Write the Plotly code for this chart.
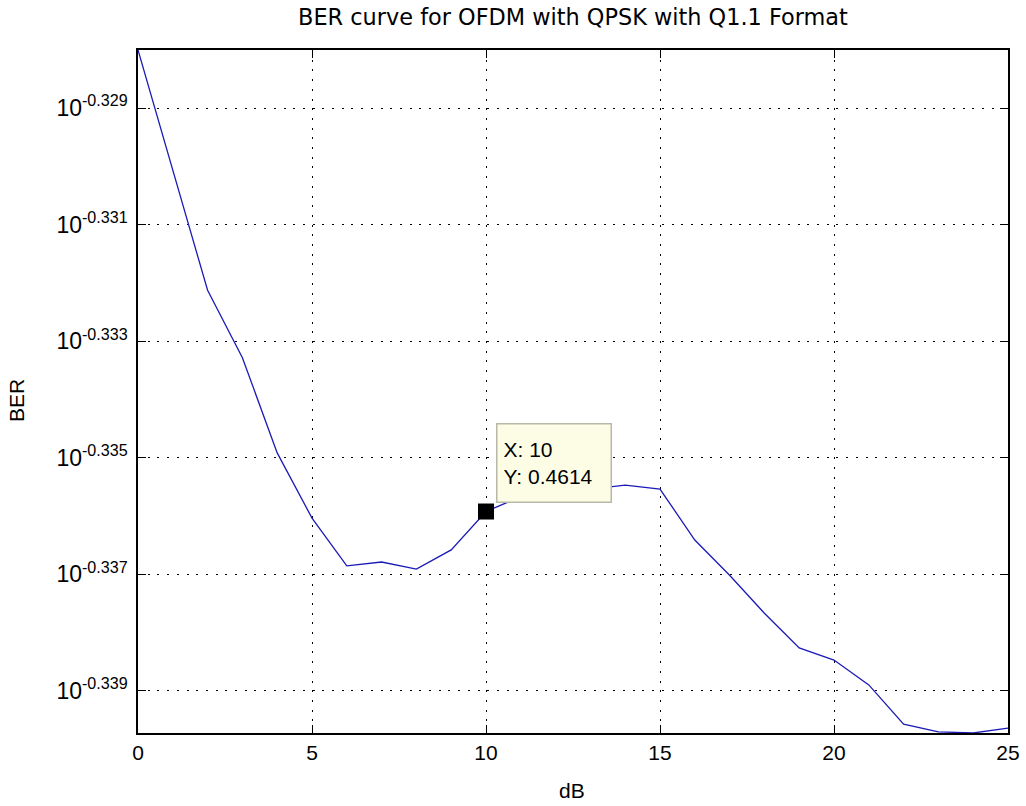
import numpy as np
import plotly.graph_objects as go

# SNR in dB and measured bit error rate
snr_db = list(range(0, 26))
ber = [0.46989, 0.46765, 0.46545, 0.46421, 0.46247, 0.46128, 0.46041, 0.46048,
       0.46035, 0.46070, 0.4614, 0.46167, 0.46179, 0.46181, 0.46188, 0.46181,
       0.46088, 0.46024, 0.45955, 0.45892, 0.45870, 0.45825, 0.45754, 0.45740,
       0.45738, 0.45747]

# log-scale tick exponents
y_exponents = [-0.329, -0.331, -0.333, -0.335, -0.337, -0.339]
x_ticks = [0, 5, 10, 15, 20, 25]

# data cursor
cursor_x = 10
cursor_y = 0.4614

font_family = "Liberation Sans, Arial, sans-serif"
W, H = 1026, 806
L, R, T, B = 138, 18, 50, 73
plot_w = W - L - R
plot_h = H - T - B

fig = go.Figure()
fig.add_trace(go.Scatter(
    x=snr_db, y=ber, mode="lines",
    line=dict(color="#1a1ab8", width=1.3),
    showlegend=False, hoverinfo="skip",
))
fig.add_trace(go.Scatter(
    x=[cursor_x], y=[cursor_y], mode="markers",
    marker=dict(symbol="square", size=16, color="black"),
    showlegend=False, hoverinfo="skip",
))

fig.add_annotation(
    x=cursor_x, y=np.log10(cursor_y), xref="x", yref="y",
    text="X: 10<br>Y: 0.4614", showarrow=False,
    xanchor="left", yanchor="bottom", xshift=10, yshift=9,
    align="left", valign="middle",
    width=101, height=65, borderpad=6,
    bgcolor="#fdfde6", bordercolor="#b8b8a8", borderwidth=1.5,
    font=dict(family=font_family, size=21, color="black"),
)

# axis titles placed as annotations
fig.add_annotation(
    x=-(L - 16) / plot_w, y=(H - B - 400) / plot_h, xref="paper", yref="paper",
    text="BER", textangle=-90, showarrow=False,
    xanchor="center", yanchor="middle",
    font=dict(family=font_family, size=21, color="black"),
)
fig.add_annotation(
    x=(572 - L) / plot_w, y=-(790 - (H - B)) / plot_h, xref="paper", yref="paper",
    text="dB", showarrow=False,
    xanchor="center", yanchor="middle",
    font=dict(family=font_family, size=21, color="black"),
)

grid_dash = "2px,7.7px"
fig.update_xaxes(
    range=[0, 25], tickvals=x_ticks, ticktext=[str(v) for v in x_ticks],
    showline=True, linecolor="black", linewidth=1.5, mirror="ticks",
    ticks="inside", ticklen=8, tickcolor="black", tickwidth=1.2,
    showgrid=True, gridcolor="black", gridwidth=1.3, griddash=grid_dash,
    zeroline=False, automargin=False,
    tickfont=dict(family=font_family, size=21, color="black"),
)
fig.update_yaxes(
    type="log",
    range=[np.log10(min(ber)), np.log10(max(ber))],
    tickvals=[10 ** e for e in y_exponents],
    ticktext=[f"10<sup>{e:.3f}</sup>" for e in y_exponents],
    showline=True, linecolor="black", linewidth=1.5, mirror="ticks",
    ticks="inside", ticklen=8, tickcolor="black", tickwidth=1.2,
    showgrid=True, gridcolor="black", gridwidth=1.3, griddash=grid_dash,
    zeroline=False, automargin=False, ticklabelstandoff=4,
    tickfont=dict(family=font_family, size=23, color="black"),
)

fig.update_layout(
    width=W, height=H,
    margin=dict(l=L, r=R, t=T, b=B, autoexpand=False),
    paper_bgcolor="white", plot_bgcolor="white",
    title=dict(
        text="BER curve for OFDM with QPSK with Q1.1 Format",
        x=573 / W, xanchor="center", y=1 - 17 / H, yanchor="middle",
        font=dict(family="DejaVu Sans, Verdana, sans-serif", size=22.4, color="black"),
    ),
)

fig.write_html("out.html")
